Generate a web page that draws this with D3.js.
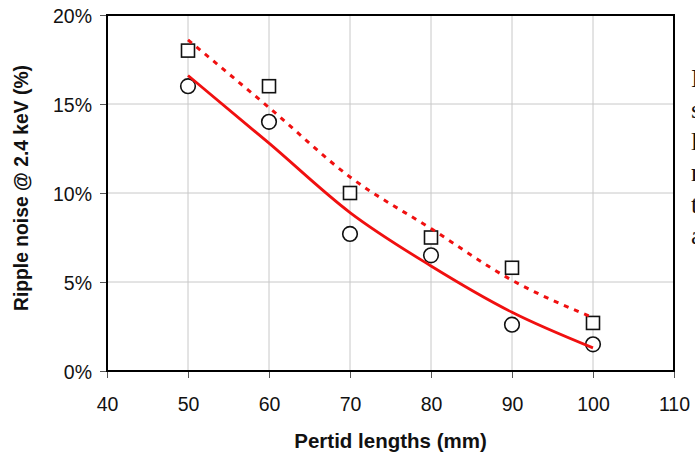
<!DOCTYPE html>
<html>
<head>
<meta charset="utf-8">
<script src="https://cdn.jsdelivr.net/npm/d3@7"></script>
<style>
  html, body { margin: 0; padding: 0; background: #fff; overflow: hidden; }
  svg { display: block; }
</style>
</head>
<body>
<script>
// Pertid length (mm) for each measurement
const lengths = [50, 60, 70, 80, 90, 100];
// Measured ripple noise (%), two configurations
const squareValues = [18.0, 16.0, 10.0, 7.5, 5.8, 2.7];
const circleValues = [16.0, 14.0, 7.7, 6.5, 2.6, 1.5];
// Trend curves sampled at the same lengths
const dashedTrend = [18.6, 14.8, 10.9, 8.0, 5.1, 3.0];
const solidTrend = [16.6, 12.8, 8.9, 5.9, 3.3, 1.3];
// Axis ticks
const xTicks = [40, 50, 60, 70, 80, 90, 100, 110];
const yTicks = [0, 5, 10, 15, 20];
// Neighbouring column of running text
const sideLetters = ["I", "s", "l", "r", "t", "a"];

const W = 695, H = 452;
const margin = { top: 15, right: 21, bottom: 81, left: 107 };
const iw = W - margin.left - margin.right;
const ih = H - margin.top - margin.bottom;

const svg = d3.select("body").append("svg").attr("width", W).attr("height", H);
const g = svg.append("g").attr("transform", `translate(${margin.left},${margin.top})`);

const x = d3.scaleLinear().domain([40, 110]).range([0, iw]);
const y = d3.scaleLinear().domain([0, 20]).range([ih, 0]);

// grid
g.append("g").selectAll("line.v").data(xTicks.slice(1, -1)).join("line")
  .attr("x1", d => x(d)).attr("x2", d => x(d)).attr("y1", 0).attr("y2", ih)
  .attr("stroke", "#c8c8c8").attr("stroke-width", 1);
g.append("g").selectAll("line.h").data(yTicks.slice(1, -1)).join("line")
  .attr("y1", d => y(d)).attr("y2", d => y(d)).attr("x1", 0).attr("x2", iw)
  .attr("stroke", "#c8c8c8").attr("stroke-width", 1);

// axes
const font = "'Liberation Sans', Arial, sans-serif";
const xAxis = g.append("g").attr("transform", `translate(0,${ih})`)
  .call(d3.axisBottom(x).tickValues(xTicks).tickSize(7).tickSizeOuter(0).tickPadding(19));
const yAxis = g.append("g")
  .call(d3.axisLeft(y).tickValues(yTicks).tickSize(7).tickSizeOuter(0).tickPadding(8)
    .tickFormat(d => d + "%"));
[xAxis, yAxis].forEach(a => {
  a.select(".domain").remove();
  a.selectAll(".tick line").attr("stroke", "#555").attr("stroke-width", 1);
  a.selectAll(".tick text").attr("fill", "#111").style("font-family", font).style("font-size", "19.5px");
});
yAxis.selectAll(".tick text").attr("dy", "0.36em");

// frame
g.append("rect").attr("x", 0).attr("y", 0).attr("width", iw).attr("height", ih)
  .attr("fill", "none").attr("stroke", "#000").attr("stroke-width", 2);

// markers
const sq = 13;
g.append("g").selectAll("rect").data(lengths).join("rect")
  .attr("x", (d) => x(d) - sq / 2)
  .attr("y", (d, i) => y(squareValues[i]) - sq / 2)
  .attr("width", sq).attr("height", sq)
  .attr("fill", "#fff").attr("stroke", "#111").attr("stroke-width", 1.6);
g.append("g").selectAll("circle").data(lengths).join("circle")
  .attr("cx", d => x(d))
  .attr("cy", (d, i) => y(circleValues[i]))
  .attr("r", 7.3)
  .attr("fill", "#fff").attr("stroke", "#111").attr("stroke-width", 1.6);

// trend curves
const line = d3.line().x(d => x(d[0])).y(d => y(d[1])).curve(d3.curveMonotoneX);
g.append("path").datum(lengths.map((d, i) => [d, dashedTrend[i]]))
  .attr("d", line).attr("fill", "none").attr("stroke", "#f01010")
  .attr("stroke-width", 3).attr("stroke-dasharray", "5,6");
g.append("path").datum(lengths.map((d, i) => [d, solidTrend[i]]))
  .attr("d", line).attr("fill", "none").attr("stroke", "#f01010")
  .attr("stroke-width", 2.8);

// axis titles
svg.append("text")
  .attr("x", margin.left + iw / 2).attr("y", 448)
  .attr("text-anchor", "middle")
  .style("font-family", font).style("font-weight", "bold").style("font-size", "20.5px")
  .attr("fill", "#111")
  .text("Pertid lengths (mm)");
svg.append("text")
  .attr("transform", `translate(28,${188}) rotate(-90)`)
  .attr("text-anchor", "middle")
  .style("font-family", font).style("font-weight", "bold").style("font-size", "19.3px")
  .attr("fill", "#111")
  .text("Ripple noise @ 2.4 keV (%)");

// side text column
svg.append("g").selectAll("text").data(sideLetters).join("text")
  .attr("x", 691).attr("y", (d, i) => 87 + i * 31.4)
  .style("font-family", "'Liberation Serif', 'Times New Roman', serif")
  .style("font-size", "26px").attr("fill", "#111")
  .text(d => d);
</script>
</body>
</html>
